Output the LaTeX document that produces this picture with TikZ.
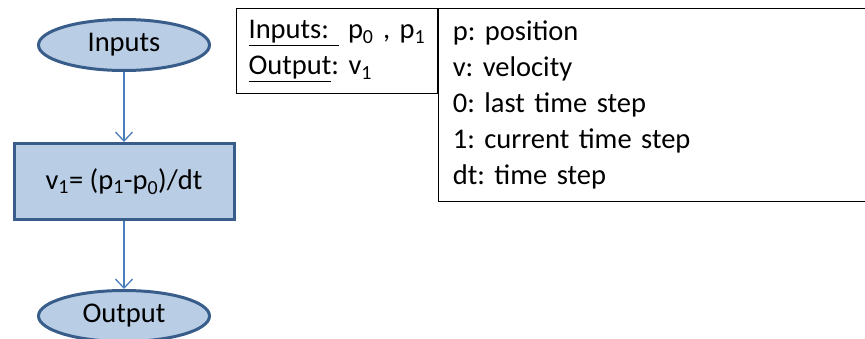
\documentclass[tikz,border=0pt]{standalone}
\usepackage{fontspec}
\setmainfont{Carlito}
\usepackage{tikz}
\usetikzlibrary{shapes.geometric, arrows.meta}
\usetikzlibrary{positioning}
\frenchspacing

\definecolor{flowfill}{RGB}{185,205,229}
\definecolor{flowline}{RGB}{56,93,138}
\definecolor{arrowline}{RGB}{74,126,187}

\begin{document}
\begin{tikzpicture}[x=1pt, y=-1pt,
    terminal/.style={ellipse, draw=flowline, fill=flowfill, line width=3pt, minimum width=171pt, minimum height=51pt, inner sep=0pt},
    process/.style={rectangle, draw=flowline, fill=flowfill, line width=3pt, minimum width=220pt, minimum height=76pt},
    infobox/.style={rectangle, draw=black, line width=1.2pt, align=left, anchor=north west, inner ysep=10pt},
    flow/.style={draw=arrowline, line width=1.3pt, -{Straight Barb[length=9pt, width=17pt]}},
    every node/.style={font=\fontsize{28.5}{36}\selectfont}
    ]
    \useasboundingbox (0,0) rectangle (865,339);

    % flow chart on the left
    \node[terminal] (inputs) at (124,45) {Inputs};
    \node[process, below=70pt of inputs] (update) {v\textsubscript{1}= (p\textsubscript{1}-p\textsubscript{0})/dt};
    \node[terminal, below=68pt of update] (output) {Output};

    \path[flow] (inputs) -- (update);
    \path[flow] (update) -- (output);

    % inputs / outputs of the step
    \node[infobox, text width=177pt, inner xsep=12pt, minimum height=85pt] (iobox) at (236,8)
        {\underline{Inputs:\ } p\textsubscript{0} , p\textsubscript{1}\\
         \underline{Output}: v\textsubscript{1}};

    % legend of the symbols
    \node[infobox, text width=405pt, inner xsep=14pt, minimum height=193pt] (legend) at (iobox.north east)
        {p: position\\
         v: velocity\\
         0: last time step\\
         1: current time step\\
         dt: time step};
\end{tikzpicture}
\end{document}
